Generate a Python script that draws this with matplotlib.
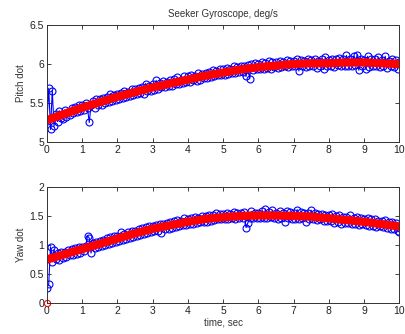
import numpy as np
import matplotlib
matplotlib.use('Agg')
import matplotlib.pyplot as plt

plt.rcParams['font.family'] = ['Liberation Sans', 'DejaVu Sans']

# Measurements, sampled every 0.05 s from 0 to 10 s
pitch_meas = [
    5.27, 5.69, 5.16, 5.66, 5.20, 5.36, 5.26, 5.40, 5.31, 5.29,
    5.41, 5.32, 5.39, 5.35, 5.44, 5.37, 5.45, 5.38, 5.47, 5.40,
    5.48, 5.41, 5.50, 5.43, 5.25, 5.47, 5.52, 5.44, 5.55, 5.47,
    5.55, 5.48, 5.57, 5.50, 5.58, 5.51, 5.62, 5.53, 5.60, 5.54,
    5.62, 5.55, 5.63, 5.56, 5.66, 5.58, 5.64, 5.59, 5.68, 5.60,
    5.68, 5.61, 5.69, 5.63, 5.70, 5.62, 5.75, 5.65, 5.72, 5.66,
    5.74, 5.67, 5.79, 5.68, 5.76, 5.70, 5.78, 5.71, 5.77, 5.72,
    5.79, 5.72, 5.81, 5.74, 5.83, 5.75, 5.80, 5.76, 5.84, 5.77,
    5.84, 5.77, 5.86, 5.79, 5.85, 5.78, 5.88, 5.80, 5.87, 5.82,
    5.89, 5.82, 5.90, 5.83, 5.92, 5.84, 5.91, 5.86, 5.93, 5.86,
    5.93, 5.86, 5.95, 5.87, 5.94, 5.88, 5.97, 5.89, 5.96, 5.90,
    5.97, 5.90, 5.98, 5.84, 5.99, 5.81, 6.00, 5.92, 6.01, 5.93,
    6.00, 5.93, 6.03, 5.94, 6.01, 5.95, 6.04, 5.93, 6.02, 5.96,
    6.02, 5.95, 6.04, 5.96, 6.03, 5.97, 6.05, 5.96, 6.04, 5.98,
    6.04, 5.97, 6.06, 5.91, 6.05, 5.98, 6.04, 5.96, 6.07, 5.97,
    6.05, 5.98, 6.06, 5.95, 6.04, 5.97, 6.07, 5.93, 6.09, 5.98,
    6.05, 5.98, 6.07, 5.96, 6.06, 5.99, 6.08, 5.97, 6.06, 5.98,
    6.11, 5.98, 6.06, 5.97, 6.10, 5.99, 6.12, 5.92, 6.07, 5.98,
    6.05, 5.93, 6.10, 5.96, 6.06, 5.98, 6.07, 5.97, 6.09, 5.96,
    6.05, 5.97, 6.10, 5.95, 6.04, 5.98, 6.07, 5.96, 6.05, 5.94,
    6.02,
]
yaw_meas = [
    0.26, 0.33, 0.97, 0.71, 0.92, 0.76, 0.86, 0.74, 0.88, 0.78,
    0.88, 0.80, 0.91, 0.82, 0.93, 0.83, 0.95, 0.85, 0.96, 0.87,
    0.97, 0.89, 0.99, 1.16, 1.12, 0.86, 1.03, 0.94, 1.05, 0.96,
    1.07, 0.98, 1.09, 1.00, 1.12, 1.02, 1.14, 1.03, 1.15, 1.05,
    1.16, 1.07, 1.22, 1.09, 1.19, 1.10, 1.22, 1.12, 1.25, 1.14,
    1.25, 1.16, 1.27, 1.17, 1.29, 1.19, 1.31, 1.20, 1.32, 1.22,
    1.33, 1.24, 1.34, 1.25, 1.36, 1.21, 1.37, 1.27, 1.38, 1.28,
    1.39, 1.30, 1.41, 1.31, 1.43, 1.33, 1.42, 1.34, 1.46, 1.35,
    1.45, 1.36, 1.46, 1.37, 1.48, 1.38, 1.47, 1.40, 1.50, 1.40,
    1.50, 1.40, 1.52, 1.42, 1.51, 1.43, 1.55, 1.44, 1.53, 1.44,
    1.53, 1.44, 1.55, 1.45, 1.54, 1.46, 1.57, 1.45, 1.55, 1.47,
    1.55, 1.46, 1.57, 1.30, 1.38, 1.47, 1.58, 1.46, 1.56, 1.47,
    1.56, 1.46, 1.59, 1.47, 1.62, 1.46, 1.57, 1.48, 1.60, 1.47,
    1.56, 1.45, 1.58, 1.47, 1.56, 1.40, 1.59, 1.46, 1.57, 1.45,
    1.55, 1.45, 1.61, 1.44, 1.57, 1.46, 1.56, 1.40, 1.55, 1.45,
    1.60, 1.44, 1.56, 1.43, 1.54, 1.44, 1.53, 1.42, 1.52, 1.41,
    1.51, 1.41, 1.54, 1.38, 1.50, 1.40, 1.52, 1.36, 1.49, 1.38,
    1.48, 1.38, 1.51, 1.37, 1.47, 1.36, 1.48, 1.35, 1.46, 1.36,
    1.45, 1.35, 1.47, 1.33, 1.44, 1.33, 1.45, 1.31, 1.42, 1.32,
    1.42, 1.31, 1.43, 1.29, 1.39, 1.28, 1.40, 1.27, 1.38, 1.25,
    1.22,
]

# Filter estimates, every 0.5 s
pitch_est = [5.28, 5.36, 5.44, 5.51, 5.58, 5.64, 5.70, 5.75, 5.80, 5.85, 5.89,
             5.93, 5.96, 5.98, 6.00, 6.01, 6.01, 6.02, 6.02, 6.01, 6.00]
yaw_est = [0.75, 0.84, 0.93, 1.02, 1.11, 1.20, 1.28, 1.34, 1.40, 1.45, 1.48,
           1.50, 1.51, 1.51, 1.50, 1.49, 1.46, 1.43, 1.40, 1.36, 1.32]
yaw_est0 = 0.0  # initial estimate at t = 0

t_meas = np.linspace(0, 10, len(pitch_meas))
t_est = np.linspace(0, 10, len(pitch_est))

fig = plt.figure(figsize=(4.05, 3.34), dpi=100)
ax1 = fig.add_axes([0.116, 0.575, 0.870, 0.350])
ax2 = fig.add_axes([0.116, 0.093, 0.870, 0.347])

for ax, meas, est in [(ax1, pitch_meas, pitch_est), (ax2, yaw_meas, yaw_est)]:
    ax.plot(t_meas, meas, '-o', color='blue', lw=0.8, ms=5, mfc='none', mew=0.8)
    ax.plot(t_est, est, '-', color='red', lw=6, solid_capstyle='round')
    ax.set_xlim(0, 10)
    ax.set_xticks(range(11))
    ax.tick_params(direction='in', top=True, right=True, labelsize=7.5, length=3,
                   width=0.6, colors='#222222', pad=2)
    for s in ax.spines.values():
        s.set_linewidth(0.7)
        s.set_color('#333333')

ax2.plot([0], [yaw_est0], 'o', color='red', ms=4.5, mfc='none', mew=0.8, clip_on=False)

ax1.set_ylim(5, 6.5)
ax1.set_yticks([5, 5.5, 6, 6.5])
ax1.set_yticklabels(['5', '5.5', '6', '6.5'])
ax1.set_ylabel('Pitch dot', fontsize=7, color='#333333', labelpad=3)
ax1.set_title('Seeker Gyroscope, deg/s', fontsize=7, color='#333333', pad=6)

ax2.set_ylim(0, 2)
ax2.set_yticks([0, 0.5, 1, 1.5, 2])
ax2.set_yticklabels(['0', '0.5', '1', '1.5', '2'])
ax2.set_ylabel('Yaw dot', fontsize=7, color='#333333', labelpad=3)
ax2.set_xlabel('time, sec', fontsize=7, color='#333333', labelpad=1)

fig.savefig('out.png', dpi=100)
